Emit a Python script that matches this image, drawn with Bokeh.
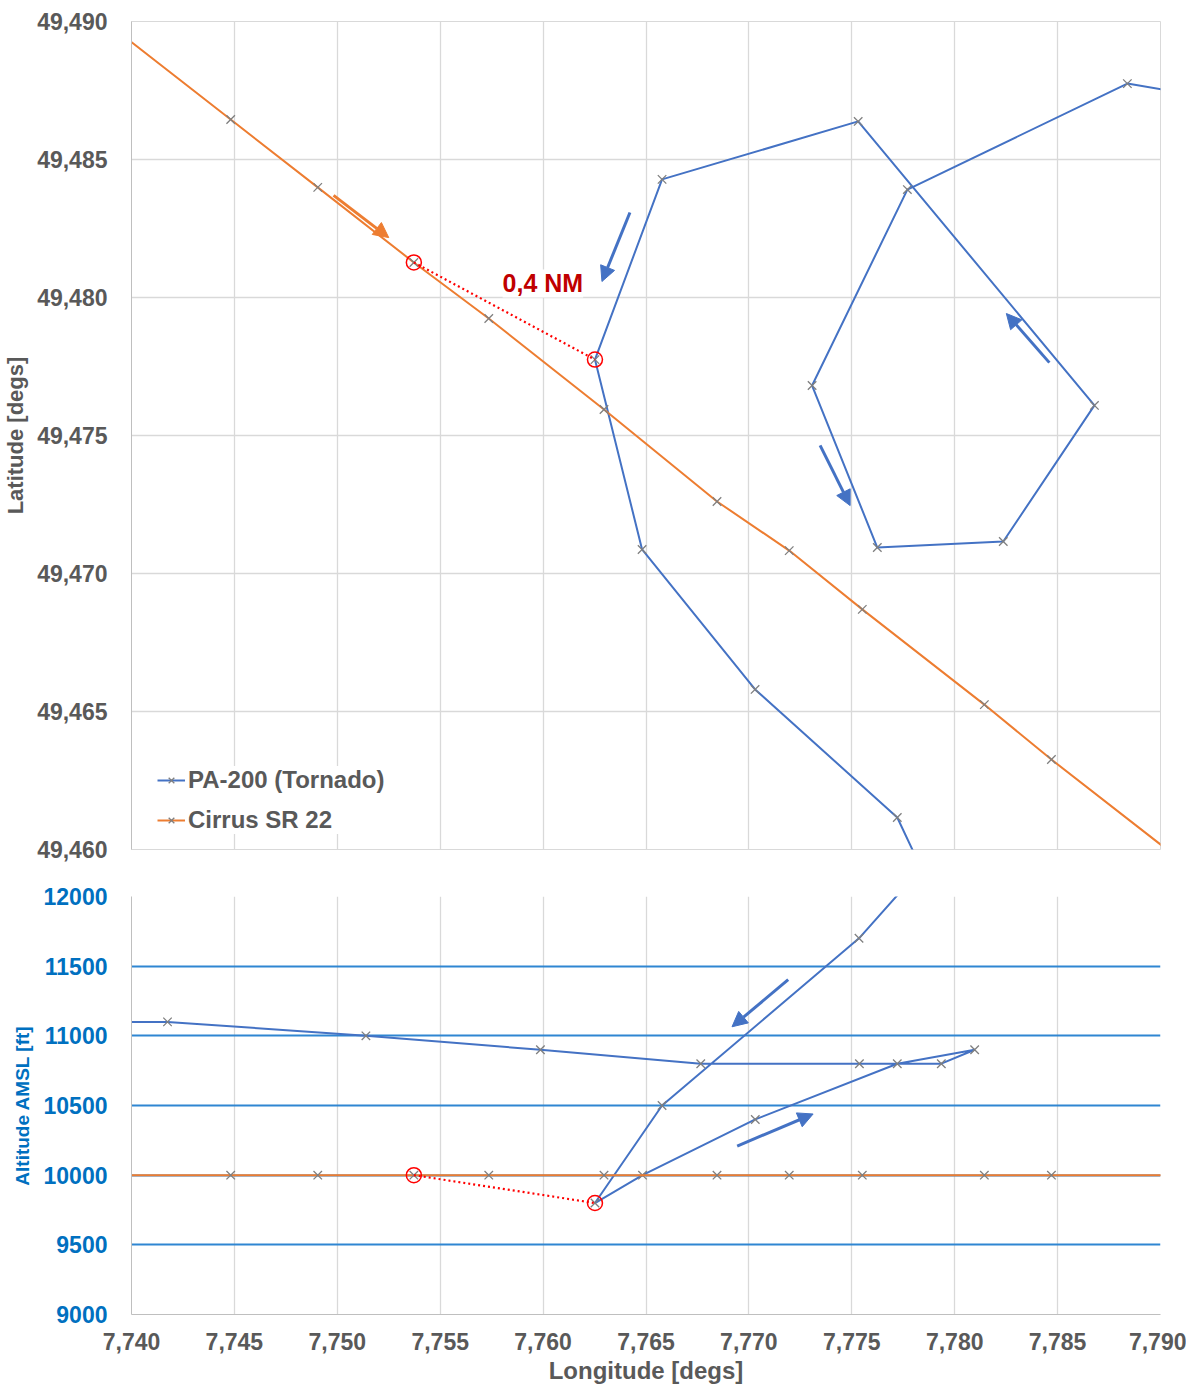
from bokeh.plotting import figure
from bokeh.layouts import column
from bokeh.models import (Range1d, FixedTicker, CustomJSTickFormatter, Legend, LegendItem,
                          Label, Arrow, NormalHead)
from bokeh.embed import file_html
from bokeh.resources import INLINE

FONT = "Liberation Sans"
GRAY_TXT = "#595959"
BLUE = "#4472C4"
ORANGE = "#ED7D31"
MARK = "#7F7F7F"
RED = "#FF0000"
ALT_BLUE = "#0070C0"

# ---------------- data ----------------
# PA-200 (Tornado) ground track (longitude / latitude)
pa_lon = [7.7930, 7.78839, 7.77770, 7.77307, 7.77624, 7.78236, 7.78679, 7.77531,
          7.76578, 7.76252, 7.76481, 7.77030, 7.77721, 7.78097]
pa_lat = [49.48717, 49.48775, 49.48391, 49.47681, 49.47094, 49.47116, 49.47609, 49.48638,
          49.48428, 49.47775, 49.47087, 49.46580, 49.46116, 49.45520]

# PA-200 (Tornado) altitude profile (longitude / altitude ft)
pa_alt_lon = [7.78681, 7.77535, 7.76578, 7.76252, 7.76483, 7.77031, 7.77721, 7.78097,
              7.77935, 7.77537, 7.76766, 7.75987, 7.75139, 7.74175, 7.73650]
pa_alt = [13600, 11700, 10500, 9800, 10000, 10400, 10800, 10900,
          10800, 10800, 10800, 10900, 11000, 11100, 11100]

# Cirrus SR 22
sr_lon = [7.73900, 7.74482, 7.74905, 7.75372, 7.75736, 7.76296, 7.76845, 7.77196,
          7.77551, 7.78144, 7.78470, 7.79150]
sr_lat = [49.48983, 49.48645, 49.48399, 49.48127, 49.47924, 49.47594, 49.47261, 49.47083,
          49.46870, 49.46525, 49.46326, 49.45931]
sr_alt = [10000, 10000, 10000, 10000, 10000, 10000, 10000, 10000,
          10000, 10000, 10000, 10000]

# closest point of approach
cpa_lon = [7.75372, 7.76252]
cpa_lat = [49.48127, 49.47775]
cpa_alt = [10000, 9800]
cpa_label = "0,4 NM"
cpa_label_pos = (7.75999, 49.48051)

# direction arrows
arr_top_x0 = [7.74982, 7.76422, 7.78460, 7.77346]
arr_top_y0 = [49.48370, 49.48308, 49.47764, 49.47464]
arr_top_x1 = [7.75250, 7.76286, 7.78251, 7.77492]
arr_top_y1 = [49.48217, 49.48058, 49.47942, 49.47246]
arr_top_c = [ORANGE, BLUE, BLUE, BLUE]

arr_bot_x0 = [7.77191, 7.76943]
arr_bot_y0 = [11403, 10209]
arr_bot_x1 = [7.76918, 7.77312]
arr_bot_y1 = [11065, 10439]

# ticks
lon_ticks = [7.740, 7.745, 7.750, 7.755, 7.760, 7.765, 7.770, 7.775, 7.780, 7.785, 7.790]
lat_ticks = [49.460, 49.465, 49.470, 49.475, 49.480, 49.485, 49.490]
alt_ticks = [9000, 9500, 10000, 10500, 11000, 11500, 12000]

comma_fmt = "return tick.toFixed(3).replace('.', ',');"

# ---------------- top panel ----------------
xr = Range1d(7.740, 7.790)
p1 = figure(width=1186, height=869, x_range=xr, y_range=Range1d(49.460, 49.490),
            output_backend="svg", toolbar_location=None,
            min_border_left=124, min_border_right=26, min_border_top=21, min_border_bottom=20)
p1.outline_line_color = "#D9D9D9"
p1.xaxis.visible = False
p1.xgrid.ticker = FixedTicker(ticks=lon_ticks)
p1.ygrid.ticker = FixedTicker(ticks=lat_ticks)
for g in (p1.xgrid, p1.ygrid):
    g.grid_line_color = "#D9D9D9"
    g.grid_line_width = 1.3
yax = p1.yaxis[0]
yax.ticker = FixedTicker(ticks=lat_ticks)
yax.formatter = CustomJSTickFormatter(code=comma_fmt)
yax.axis_label = "Latitude [degs]"
yax.axis_label_text_font = FONT
yax.axis_label_text_font_style = "bold"
yax.axis_label_text_font_size = "22px"
yax.axis_label_text_color = GRAY_TXT
yax.axis_label_standoff = 6
yax.major_label_text_font = FONT
yax.major_label_text_font_style = "bold"
yax.major_label_text_font_size = "23px"
yax.major_label_text_color = GRAY_TXT
yax.major_label_standoff = 18
yax.major_tick_line_color = None
yax.minor_tick_line_color = None
yax.axis_line_color = "#BFBFBF"

l_pa = p1.line(pa_lon, pa_lat, line_color=BLUE, line_width=2)
s_pa = p1.scatter(pa_lon, pa_lat, marker="x", size=12, line_color=MARK, line_width=1.3)
l_sr = p1.line(sr_lon, sr_lat, line_color=ORANGE, line_width=2)
s_sr = p1.scatter(sr_lon, sr_lat, marker="x", size=12, line_color=MARK, line_width=1.3)

p1.line(cpa_lon, cpa_lat, line_color=RED, line_width=2.2, line_dash="2 3")
p1.scatter(cpa_lon, cpa_lat, marker="circle", size=15, fill_color=None, line_color=RED, line_width=1.5)

for x0, y0, x1, y1, c in zip(arr_top_x0, arr_top_y0, arr_top_x1, arr_top_y1, arr_top_c):
    p1.add_layout(Arrow(x_start=x0, y_start=y0, x_end=x1, y_end=y1, line_color=c, line_width=3,
                        end=NormalHead(size=15, fill_color=c, line_color=c, line_width=1)))

p1.add_layout(Label(x=cpa_label_pos[0], y=cpa_label_pos[1], text=cpa_label,
                    text_font=FONT, text_font_style="bold", text_font_size="25px",
                    text_color="#C00000", text_align="center", text_baseline="middle",
                    background_fill_color="white"))

legend = Legend(items=[LegendItem(label="PA-200 (Tornado)", renderers=[l_pa, s_pa]),
                       LegendItem(label="Cirrus SR 22", renderers=[l_sr, s_sr])],
                location=(26, 15), padding=10, margin=0, spacing=12,
                glyph_width=28, glyph_height=20, label_height=20, label_standoff=3,
                label_text_font=FONT, label_text_font_style="bold", label_text_font_size="24px",
                label_text_color=GRAY_TXT, border_line_color=None, background_fill_color="white",
                background_fill_alpha=1.0)
p1.add_layout(legend)

# ---------------- bottom panel ----------------
p2 = figure(width=1186, height=517, x_range=xr, y_range=Range1d(9000, 12000),
            output_backend="svg", toolbar_location=None,
            min_border_left=124, min_border_right=26, min_border_top=27, min_border_bottom=60)
p2.outline_line_color = None
p2.xgrid.ticker = FixedTicker(ticks=lon_ticks)
p2.ygrid.ticker = FixedTicker(ticks=alt_ticks)
p2.xgrid.grid_line_color = "#D9D9D9"
p2.xgrid.grid_line_width = 1.3
p2.ygrid.grid_line_color = "#2F86D2"
p2.ygrid.grid_line_width = 1.8

xax = p2.xaxis[0]
xax.ticker = FixedTicker(ticks=lon_ticks)
xax.formatter = CustomJSTickFormatter(code=comma_fmt)
xax.axis_label = "Longitude [degs]"
xax.axis_label_text_font = FONT
xax.axis_label_text_font_style = "bold"
xax.axis_label_text_font_size = "24px"
xax.axis_label_text_color = GRAY_TXT
xax.axis_label_standoff = 4
xax.major_label_text_font = FONT
xax.major_label_text_font_style = "bold"
xax.major_label_text_font_size = "23px"
xax.major_label_text_color = GRAY_TXT
xax.major_label_standoff = 12
xax.major_tick_line_color = None
xax.minor_tick_line_color = None
xax.axis_line_color = "#BFBFBF"

yax2 = p2.yaxis[0]
yax2.ticker = FixedTicker(ticks=alt_ticks)
yax2.axis_label = "Altitude AMSL [ft]"
yax2.axis_label_text_font = FONT
yax2.axis_label_text_font_style = "bold"
yax2.axis_label_text_font_size = "19px"
yax2.axis_label_text_color = ALT_BLUE
yax2.axis_label_standoff = 8
yax2.major_label_text_font = FONT
yax2.major_label_text_font_style = "bold"
yax2.major_label_text_font_size = "23px"
yax2.major_label_text_color = ALT_BLUE
yax2.major_label_standoff = 18
yax2.major_tick_line_color = None
yax2.minor_tick_line_color = None
yax2.axis_line_color = "#BFBFBF"

p2.line(pa_alt_lon, pa_alt, line_color=BLUE, line_width=2)
p2.scatter(pa_alt_lon, pa_alt, marker="x", size=12, line_color=MARK, line_width=1.3)
p2.line(sr_lon, sr_alt, line_color=ORANGE, line_width=2)
p2.scatter(sr_lon, sr_alt, marker="x", size=12, line_color=MARK, line_width=1.3)

p2.line(cpa_lon, cpa_alt, line_color=RED, line_width=2.2, line_dash="2 3")
p2.scatter(cpa_lon, cpa_alt, marker="circle", size=15, fill_color=None, line_color=RED, line_width=1.5)

for x0, y0, x1, y1 in zip(arr_bot_x0, arr_bot_y0, arr_bot_x1, arr_bot_y1):
    p2.add_layout(Arrow(x_start=x0, y_start=y0, x_end=x1, y_end=y1, line_color=BLUE, line_width=3,
                        end=NormalHead(size=15, fill_color=BLUE, line_color=BLUE, line_width=1)))

layout = column(p1, p2, spacing=0)
open("out.html", "w").write(file_html(layout, INLINE))
